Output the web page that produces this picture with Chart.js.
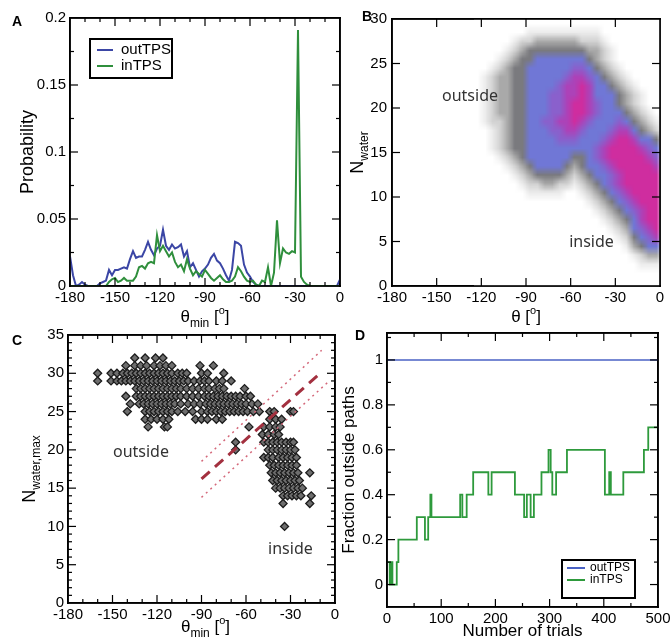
<!DOCTYPE html>
<html>
<head>
<meta charset="utf-8">
<script src="https://cdn.jsdelivr.net/npm/chart.js@4.4.1/dist/chart.umd.min.js"></script>
<style>
  html, body { margin: 0; padding: 0; background: #fff; }
  #figure { position: relative; width: 671px; height: 644px; overflow: hidden; }
  .panel { position: absolute; }
  .panel canvas { display: block; }
</style>
</head>
<body>
<div id="figure">
  <div class="panel" style="left:0px;top:0px"><canvas id="chartA" width="350" height="332"></canvas></div>
  <div class="panel" style="left:340px;top:0px"><canvas id="chartB" width="331" height="332"></canvas></div>
  <div class="panel" style="left:0px;top:320px"><canvas id="chartC" width="345" height="324"></canvas></div>
  <div class="panel" style="left:335px;top:320px"><canvas id="chartD" width="339" height="324"></canvas></div>
</div>
<script>
// ---- data ----------------------------------------------------------------

// shared angle ticks
const thetaTicks = [-180, -150, -120, -90, -60, -30, 0];

// A: probability of theta_min, 2 degree bins from -180 to 0
const aThetaBins = Array.from({ length: 91 }, function (_, i) { return -180 + 2 * i; });
const aOutTPS = [
  0.022, 0.008, 0, 0.001, 0.003, 0.001, 0, 0, 0, 0,
  0.002, 0.003, 0.004, 0.012, 0.008, 0.012, 0.012, 0.013, 0.014, 0.013,
  0.020, 0.026, 0.021, 0.022, 0.022, 0.027, 0.033, 0.027, 0.023, 0.028,
  0.030, 0.042, 0.030, 0.027, 0.031, 0.028, 0.029, 0.031, 0.022, 0.026,
  0.014, 0.017, 0.012, 0.007, 0.011, 0.013, 0.016, 0.021, 0.024, 0.019,
  0.017, 0.013, 0.008, 0.004, 0.012, 0.033, 0.032, 0.030, 0.016, 0.010,
  0.007, 0.003, 0.001, 0, 0, 0, 0, 0, 0, 0,
  0, 0, 0, 0, 0, 0, 0, 0, 0, 0,
  0, 0, 0, 0, 0, 0, 0, 0, 0, 0,
  0.005
];
const aInTPS = [
  0, 0, 0, 0, 0, 0, 0, 0, 0, 0,
  0, 0, 0, 0.003, 0.005, 0.006, 0.003, 0.004, 0.006, 0.004,
  0.004, 0.004, 0.007, 0.014, 0.015, 0.013, 0.017, 0.018, 0.017, 0.038,
  0.026, 0.030, 0.026, 0.022, 0.025, 0.018, 0.014, 0.016, 0.011, 0.020,
  0.013, 0.008, 0.011, 0.009, 0.007, 0.012, 0.009, 0.006, 0.004, 0.006,
  0.008, 0.005, 0.003, 0.003, 0.004, 0.007, 0.014, 0.011, 0.007, 0.004,
  0.003, 0.004, 0.001, 0, 0.004, 0.003, 0.014, 0, 0.010, 0.049,
  0.017, 0.028, 0.025, 0.024, 0.026, 0.025, 0.191, 0.007, 0.003, 0.001,
  0, 0, 0, 0, 0, 0, 0, 0, 0, 0,
  0
];
const aProbTicks = [0, 0.05, 0.1, 0.15, 0.2];

// B: density levels (0 = empty .. 8 = highest), 5 degree columns from -120 to 0,
// one row per water count, top row is N = 29..30
const bThetaFirst = -120;
const bThetaStep = 5;
const bNwaterTop = 30;
const bDensityRows = [
  '000000000000000000000000',
  '000000111111111100000000',
  '000012233333322210000000',
  '000123444444443321000000',
  '001234455555554321000000',
  '012344555555665432100000',
  '123344555556776543210000',
  '123344555567787554321000',
  '123344555667787555432100',
  '123344555667887655432100',
  '123344555667887655543210',
  '122344556677876555654321',
  '012344555667765556775432',
  '012344555566655567887554',
  '012344555555555678888765',
  '001234555555445678888876',
  '000123455554345567888887',
  '000012344443234556788888',
  '000001223322123456788888',
  '000000111110012345678888',
  '000000000000001234567888',
  '000000000000000123456788',
  '000000000000000012345788',
  '000000000000000001235678',
  '000000000000000000124567',
  '000000000000000000013455',
  '000000000000000000001233',
  '000000000000000000000111',
  '000000000000000000000000',
  '000000000000000000000000'
];
const bLevelColors = [
  '#ffffff', '#ececec', '#d2d2d2', '#a9a9a9', '#7a7a7e',
  '#7077d6', '#8a60cc', '#ad42b8', '#cf2d9f'
];
const bWaterTicks = [0, 5, 10, 15, 20, 25, 30];

// C: N_water,max against theta_min, one entry per water count
const cScatterRows = [
  [32, [-135, -128, -121, -116]],
  [31, [-141, -135, -131, -127, -122, -118, -114, -110, -91, -82]],
  [30, [-160, -151, -147, -143, -140, -137, -134, -131, -128, -125, -122, -119, -116, -113, -110, -106, -103, -100, -90, -86, -75]],
  [29, [-160, -151, -147, -144, -141, -138, -135, -132, -129, -126, -123, -120, -117, -114, -111, -108, -105, -102, -99, -95, -91, -88, -85, -80, -76, -70]],
  [28, [-134, -131, -128, -125, -122, -119, -116, -113, -110, -107, -104, -100, -96, -92, -88, -85, -81, -78, -75, -61]],
  [27, [-141, -134, -131, -128, -125, -122, -119, -116, -113, -110, -107, -104, -100, -96, -92, -88, -85, -82, -79, -76, -73, -70, -67, -64, -60, -57]],
  [26, [-138, -132, -129, -126, -123, -120, -117, -114, -111, -108, -104, -99, -95, -91, -87, -84, -81, -78, -75, -72, -69, -66, -63, -60, -56, -52]],
  [25, [-140, -128, -125, -122, -119, -116, -113, -110, -106, -101, -96, -90, -86, -83, -80, -77, -74, -71, -68, -65, -62, -59, -55, -51, -44, -41, -30, -28]],
  [24, [-128, -124, -120, -116, -112, -94, -90, -86, -80, -76, -44, -40, -36]],
  [23, [-126, -115, -113, -58, -48, -44, -40, -37]],
  [22, [-49, -45, -41, -38]],
  [21, [-67, -48, -45, -42, -39, -36, -33, -30, -28]],
  [20, [-67, -45, -42, -39, -36, -33, -30, -27]],
  [19, [-48, -45, -42, -38, -35, -32, -29, -26]],
  [18, [-44, -41, -38, -35, -32, -29, -26]],
  [17, [-43, -40, -37, -34, -31, -28, -25, -17]],
  [16, [-42, -39, -36, -33, -30, -27, -24]],
  [15, [-40, -37, -34, -31, -28, -25, -22]],
  [14, [-35, -32, -29, -26, -23, -16]],
  [13, [-35, -17]],
  [10, [-34]]
];
const cDashedTheta = [-90, -10];
const cDashedN = [16.2, 30];
const cUpperTheta = [-90, -9];
const cUpperN = [18.5, 33];
const cLowerTheta = [-90, -5];
const cLowerN = [13.8, 28.8];
const cWaterTicks = [0, 5, 10, 15, 20, 25, 30, 35];

// D: running fraction of outside paths (value holds from the given trial on)
const dOutTrials = [0, 500];
const dOutFraction = [1, 1];
const dInTrials = [0, 5, 7, 10, 18, 21, 55, 70, 76, 80, 82, 135, 139, 147, 159, 187, 193,
  236, 253, 258, 265, 271, 285, 298, 302, 305, 312, 332, 402, 410, 413, 436, 474, 482, 500];
const dInFraction = [0.1, 0, 0.1, 0, 0.1, 0.2, 0.3, 0.2, 0.3, 0.4, 0.3, 0.4, 0.3, 0.4, 0.5, 0.4, 0.5,
  0.4, 0.3, 0.4, 0.3, 0.4, 0.5, 0.6, 0.5, 0.4, 0.5, 0.6, 0.4, 0.5, 0.4, 0.5, 0.6, 0.7, 0.7];
const dTrialTicks = [0, 100, 200, 300, 400, 500];
const dFractionTicks = [0, 0.2, 0.4, 0.6, 0.8, 1];

// ---- helpers -------------------------------------------------------------

const FONT = '"Liberation Sans", Arial, sans-serif';
Chart.defaults.font.family = FONT;
Chart.defaults.font.size = 15;
Chart.defaults.color = '#000';

function pairUp(xs, ys) {
  return xs.map(function (x, i) { return { x: x, y: ys[i] }; });
}

function tickLabel(v) {
  return String(Math.round(v * 1000) / 1000);
}

const frameBorder = { display: true, color: '#000', width: 1.6 };

// fixed-size axes so the plot boxes land where the figure has them;
// x2 / y2 are label-less twins that close the frame on top and right
function makeScales(o) {
  const zeroPad = function (s) { s.paddingLeft = 0; s.paddingRight = 0; s.paddingTop = 0; s.paddingBottom = 0; };
  return {
    x: {
      type: 'linear', position: 'bottom', min: o.xMin, max: o.xMax,
      grid: { display: false, drawTicks: false }, border: frameBorder,
      ticks: { padding: o.xPad, autoSkip: false, maxRotation: 0, callback: tickLabel },
      afterBuildTicks: function (s) { s.ticks = o.xTicks.map(function (v) { return { value: v }; }); },
      afterFit: function (s) { s.height = o.xHeight; zeroPad(s); }
    },
    x2: {
      type: 'linear', position: 'top', min: o.xMin, max: o.xMax,
      grid: { display: false, drawTicks: false }, border: frameBorder,
      ticks: { display: false },
      afterFit: function (s) { s.height = 0; zeroPad(s); }
    },
    y: {
      type: 'linear', position: 'left', min: o.yMin, max: o.yMax,
      grid: { display: false, drawTicks: false }, border: frameBorder,
      ticks: { padding: o.yPad, autoSkip: false, callback: tickLabel },
      afterBuildTicks: function (s) { s.ticks = o.yTicks.map(function (v) { return { value: v }; }); },
      afterFit: function (s) { s.width = o.yWidth; zeroPad(s); }
    },
    y2: {
      type: 'linear', position: 'right', min: o.yMin, max: o.yMax,
      grid: { display: false, drawTicks: false }, border: frameBorder,
      ticks: { display: false },
      afterFit: function (s) { s.width = 0; zeroPad(s); }
    }
  };
}

// text made of pieces (subscripts / superscripts), centred on (cx, cy)
function drawPieces(ctx, pieces, cx, cy, rotate) {
  ctx.save();
  ctx.translate(cx, cy);
  if (rotate) ctx.rotate(-Math.PI / 2);
  const widths = [];
  let total = 0;
  pieces.forEach(function (p) {
    ctx.font = p.size + 'px ' + FONT;
    const w = ctx.measureText(p.text).width;
    widths.push(w);
    total += w;
  });
  let x = -total / 2;
  ctx.fillStyle = '#000';
  ctx.textAlign = 'left';
  ctx.textBaseline = 'alphabetic';
  pieces.forEach(function (p, i) {
    ctx.font = p.size + 'px ' + FONT;
    ctx.fillText(p.text, x, p.dy || 0);
    x += widths[i];
  });
  ctx.restore();
}

// inward ticks on all four sides plus frame, titles and panel letter
function frameTicks(chart, f) {
  const ctx = chart.ctx, a = chart.chartArea;
  const sx = chart.scales.x, sy = chart.scales.y;
  const L = Math.round(a.left), R = Math.round(a.right), T = Math.round(a.top), B = Math.round(a.bottom);
  ctx.save();
  ctx.fillStyle = '#000';
  const marks = function (scale, minor, major, horizontal) {
    const start = Math.ceil(scale.min / minor - 1e-6);
    for (let k = start; k * minor <= scale.max + 1e-9; k++) {
      const v = k * minor;
      if (Math.abs(v - scale.min) < 1e-9 || Math.abs(v - scale.max) < 1e-9) continue;
      const len = Math.abs(v / major - Math.round(v / major)) < 1e-6 ? 8 : 4;
      const p = scale.getPixelForValue(v);
      if (horizontal) {
        ctx.fillRect(p - 0.6, B - len, 1.2, len);
        ctx.fillRect(p - 0.6, T, 1.2, len);
      } else {
        ctx.fillRect(L, p - 0.6, len, 1.2);
        ctx.fillRect(R - len, p - 0.6, len, 1.2);
      }
    }
  };
  marks(sx, f.xMinor, f.xMajor, true);
  marks(sy, f.yMinor, f.yMajor, false);
  const w = 1.6;
  ctx.fillRect(L - w / 2, T - w / 2, R - L + w, w);
  ctx.fillRect(L - w / 2, B - w / 2, R - L + w, w);
  ctx.fillRect(L - w / 2, T - w / 2, w, B - T + w);
  ctx.fillRect(R - w / 2, T - w / 2, w, B - T + w);
  ctx.restore();

  drawPieces(ctx, f.xTitle, (a.left + a.right) / 2 + (f.xTitleShift || 0), a.bottom + f.xTitleGap, false);
  drawPieces(ctx, f.yTitle, a.left - f.yTitleGap, (a.top + a.bottom) / 2, true);

  ctx.save();
  ctx.font = 'bold 14px ' + FONT;
  ctx.fillStyle = '#000';
  ctx.fillText(f.letter[0], f.letter[1], f.letter[2]);
  ctx.restore();
}

function makeFramePlugin(f) {
  return {
    id: 'panelFrame' + f.letter[0],
    afterDraw: function (chart) { frameTicks(chart, f); }
  };
}

// boxed legend inside the plot area
function makeLegendPlugin(o) {
  return {
    id: 'boxLegend',
    afterDraw: function (chart) {
      const ctx = chart.ctx, a = chart.chartArea;
      const left = o.fromRight ? a.right - o.dx - o.w : a.left + o.dx;
      const top = o.fromBottom ? a.bottom - o.dy - o.h : a.top + o.dy;
      ctx.save();
      ctx.fillStyle = '#fff';
      ctx.fillRect(left, top, o.w, o.h);
      ctx.lineWidth = 2;
      ctx.strokeStyle = '#000';
      ctx.strokeRect(left, top, o.w, o.h);
      ctx.font = o.fontSize + 'px ' + FONT;
      ctx.textBaseline = 'middle';
      chart.data.datasets.forEach(function (ds, i) {
        const yy = top + o.rowTop + i * o.rowGap;
        ctx.strokeStyle = ds.borderColor;
        ctx.lineWidth = 2;
        ctx.beginPath();
        ctx.moveTo(left + o.lineX, yy);
        ctx.lineTo(left + o.lineX + o.lineLen, yy);
        ctx.stroke();
        ctx.fillStyle = '#000';
        ctx.fillText(ds.label, left + o.textX, yy);
      });
      ctx.restore();
    }
  };
}

// region names placed in data coordinates
function makeNotesPlugin(items) {
  return {
    id: 'regionNotes',
    afterDatasetsDraw: function (chart) {
      const ctx = chart.ctx;
      ctx.save();
      ctx.font = '16px "Noto Sans", "Open Sans", sans-serif';
      ctx.fillStyle = '#333';
      ctx.textBaseline = 'middle';
      items.forEach(function (it) {
        ctx.fillText(it.text, chart.scales.x.getPixelForValue(it.x), chart.scales.y.getPixelForValue(it.y));
      });
      ctx.restore();
    }
  };
}

// density map for panel B, one cell per (angle bin, water count);
// a blank cell ring lets the edges fade out like the figure
const heatmapPlugin = {
  id: 'densityMap',
  beforeDatasetsDraw: function (chart) {
    const sx = chart.scales.x, sy = chart.scales.y, a = chart.chartArea;
    const cols = bDensityRows[0].length, rows = bDensityRows.length;
    const off = document.createElement('canvas');
    off.width = cols + 2;
    off.height = rows + 2;
    const octx = off.getContext('2d');
    octx.fillStyle = bLevelColors[0];
    octx.fillRect(0, 0, cols + 2, rows + 2);
    bDensityRows.forEach(function (row, r) {
      for (let c = 0; c < cols; c++) {
        octx.fillStyle = bLevelColors[+row[c]];
        octx.fillRect(c + 1, r + 1, 1, 1);
      }
    });
    const left = sx.getPixelForValue(bThetaFirst - bThetaStep);
    const right = sx.getPixelForValue(bThetaFirst + (cols + 1) * bThetaStep);
    const top = sy.getPixelForValue(bNwaterTop + 1);
    const bottom = sy.getPixelForValue(bNwaterTop - rows - 1);
    const ctx = chart.ctx;
    ctx.save();
    ctx.beginPath();
    ctx.rect(a.left, a.top, a.right - a.left, a.bottom - a.top);
    ctx.clip();
    ctx.imageSmoothingEnabled = true;
    ctx.drawImage(off, left, top, right - left, bottom - top);
    ctx.restore();
  }
};

const thetaMinTitle = [
  { text: '\u03B8', size: 17 }, { text: 'min', size: 12, dy: 5 },
  { text: ' [', size: 17 }, { text: 'o', size: 11, dy: -8 }, { text: ']', size: 17 }
];

const baseOptions = function (padding, scales) {
  return {
    responsive: false, animation: false, events: [],
    layout: { padding: padding },
    scales: scales,
    plugins: { legend: { display: false }, tooltip: { enabled: false } }
  };
};

// ---- panel A -------------------------------------------------------------
new Chart(document.getElementById('chartA'), {
  type: 'line',
  data: {
    datasets: [
      { label: 'outTPS', data: pairUp(aThetaBins, aOutTPS), borderColor: '#3b46a5', borderWidth: 2, pointRadius: 0, order: 1 },
      { label: 'inTPS', data: pairUp(aThetaBins, aInTPS), borderColor: '#2f8f3c', borderWidth: 2, pointRadius: 0, order: 0 }
    ]
  },
  options: baseOptions({ left: 0, top: 18, right: 10, bottom: 0 },
    makeScales({ xMin: -180, xMax: 0, xTicks: thetaTicks, xHeight: 46, xPad: 3,
      yMin: 0, yMax: 0.2, yTicks: aProbTicks, yWidth: 70, yPad: 4 })),
  plugins: [
    makeFramePlugin({ xMinor: 10, xMajor: 30, yMinor: 0.025, yMajor: 0.05,
      xTitle: thetaMinTitle, xTitleGap: 36, yTitle: [{ text: 'Probability', size: 18 }], yTitleGap: 37,
      letter: ['A', 12, 26] }),
    makeLegendPlugin({ dx: 20, dy: 21, w: 82, h: 39, rowTop: 11, rowGap: 16,
      lineX: 7, lineLen: 16, textX: 31, fontSize: 15 })
  ]
});

// ---- panel B -------------------------------------------------------------
new Chart(document.getElementById('chartB'), {
  type: 'scatter',
  data: { datasets: [{ label: 'density', data: [] }] },
  options: baseOptions({ left: 0, top: 19, right: 11, bottom: 0 },
    makeScales({ xMin: -180, xMax: 0, xTicks: thetaTicks, xHeight: 46, xPad: 3,
      yMin: 0, yMax: 30, yTicks: bWaterTicks, yWidth: 52, yPad: 5 })),
  plugins: [
    heatmapPlugin,
    makeNotesPlugin([{ text: 'outside', x: -146.4, y: 21.3 }, { text: 'inside', x: -61, y: 4.9 }]),
    makeFramePlugin({ xMinor: 30, xMajor: 30, yMinor: 5, yMajor: 5,
      xTitle: [{ text: '\u03B8', size: 17 }, { text: ' [', size: 17 }, { text: 'o', size: 11, dy: -8 }, { text: ']', size: 17 }],
      xTitleGap: 36, yTitle: [{ text: 'N', size: 18 }, { text: 'water', size: 12, dy: 5 }], yTitleGap: 29,
      letter: ['B', 22, 21] })
  ]
});

// ---- panel C -------------------------------------------------------------
const cPoints = [];
cScatterRows.forEach(function (row) {
  row[1].forEach(function (t) { cPoints.push({ x: t, y: row[0] }); });
});

new Chart(document.getElementById('chartC'), {
  type: 'scatter',
  data: {
    datasets: [
      { label: 'fit', type: 'line', data: pairUp(cDashedTheta, cDashedN), borderColor: '#a3303f', borderWidth: 3, borderDash: [11, 7], pointRadius: 0 },
      { label: 'upper', type: 'line', data: pairUp(cUpperTheta, cUpperN), borderColor: '#d4687a', borderWidth: 1.5, borderDash: [2, 4], pointRadius: 0 },
      { label: 'lower', type: 'line', data: pairUp(cLowerTheta, cLowerN), borderColor: '#d4687a', borderWidth: 1.5, borderDash: [2, 4], pointRadius: 0 },
      { label: 'paths', data: cPoints, pointStyle: 'rectRot', pointRadius: 4, backgroundColor: '#6e6e6e', borderColor: '#1c1c1c', borderWidth: 1.3 }
    ]
  },
  options: baseOptions({ left: 0, top: 15, right: 10, bottom: 0 },
    makeScales({ xMin: -180, xMax: 0, xTicks: thetaTicks, xHeight: 41, xPad: 3,
      yMin: 0, yMax: 35, yTicks: cWaterTicks, yWidth: 68, yPad: 4 })),
  plugins: [
    makeNotesPlugin([{ text: 'outside', x: -149.7, y: 19.7 }, { text: 'inside', x: -45.1, y: 7.05 }]),
    makeFramePlugin({ xMinor: 10, xMajor: 30, yMinor: 1, yMajor: 5,
      xTitle: thetaMinTitle, xTitleGap: 29, xTitleShift: 4,
      yTitle: [{ text: 'N', size: 18 }, { text: 'water,max', size: 12, dy: 5 }], yTitleGap: 33,
      letter: ['C', 12, 25] })
  ]
});

// ---- panel D -------------------------------------------------------------
new Chart(document.getElementById('chartD'), {
  type: 'line',
  data: {
    datasets: [
      { label: 'outTPS', data: pairUp(dOutTrials, dOutFraction), borderColor: '#4a62c4', borderWidth: 1.5, pointRadius: 0 },
      { label: 'inTPS', data: pairUp(dInTrials, dInFraction), borderColor: '#2e9a3c', borderWidth: 1.8, pointRadius: 0, stepped: true }
    ]
  },
  options: baseOptions({ left: 0, top: 13, right: 16, bottom: 0 },
    makeScales({ xMin: 0, xMax: 500, xTicks: dTrialTicks, xHeight: 37, xPad: 3,
      yMin: -0.1, yMax: 1.12, yTicks: dFractionTicks, yWidth: 52, yPad: 4 })),
  plugins: [
    makeFramePlugin({ xMinor: 50, xMajor: 100, yMinor: 0.1, yMajor: 0.2,
      xTitle: [{ text: 'Number of trials', size: 17 }], xTitleGap: 29,
      yTitle: [{ text: 'Fraction outside paths', size: 17 }], yTitleGap: 33,
      letter: ['D', 20, 20] }),
    makeLegendPlugin({ fromRight: true, fromBottom: true, dx: 23, dy: 9, w: 73, h: 38,
      rowTop: 8, rowGap: 12, lineX: 5, lineLen: 18, textX: 28, fontSize: 12 })
  ]
});
</script>
</body>
</html>
